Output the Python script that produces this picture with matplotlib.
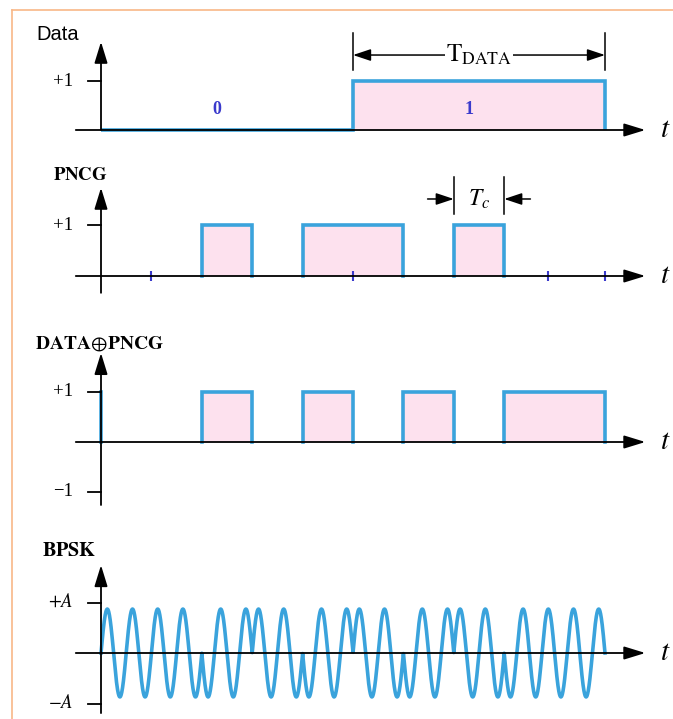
#!/usr/bin/env python
""" DSSS signals: data, PN chip sequence, their XOR and the BPSK waveform """

import numpy as np
import matplotlib
matplotlib.use('Agg')
import matplotlib.pyplot as plt
from matplotlib.lines import Line2D

plt.rcParams.update({'font.family': ['Liberation Serif', 'DejaVu Serif'],
                     'mathtext.fontset': 'stix'})

# data
data_bits = [0, 1]
chips_per_bit = 5
pn_chips = [0, 0, 1, 0, 1, 1, 0, 1, 0, 0]
stray_marks = [1, 5, 8.87, 10]      # small blue marks on the PNCG axis
xor_start_level = 1                  # trace begins at +1 before dropping
carrier_cycles_per_chip = 2
carrier_amp = 0.87

data_chips = np.repeat(data_bits, chips_per_bit)
xor_chips = np.bitwise_xor(data_chips, pn_chips)
edges = np.arange(len(pn_chips) + 1)

BLUE = '#3aa3dc'
PINK = '#fde1ee'
DARK_BLUE = '#3a3acc'

W, H = 673, 719
X0, CHIP = 101, 50.4     # pixel of t=0, pixels per chip

fig = plt.figure(figsize=(W / 100, H / 100), dpi=100)


def panel(top, bottom, base, unit=50):
    ax = fig.add_axes([0, 1 - bottom / H, 1, (bottom - top) / H])
    ax.set_xlim(-X0 / CHIP, (W - X0) / CHIP)
    ax.set_ylim(-(bottom - base) / unit, (base - top) / unit)
    ax.axis('off')
    return ax


def draw_axes(ax, ytop, ybot, ticks):
    arrow = dict(arrowstyle='-|>,head_length=0.65,head_width=0.2',
                 color='black', lw=1.3, shrinkA=0, shrinkB=0, mutation_scale=20)
    ax.annotate('', xy=(10.8, 0), xytext=(-0.5, 0), arrowprops=arrow)
    ax.annotate('', xy=(0, ytop), xytext=(0, ybot), arrowprops=arrow)
    ax.text(11.2, 0, r'$t$', fontsize=21, va='center', ha='center')
    for y, lab in ticks:
        ax.plot([-0.26, 0], [y, y], color='black', lw=1.3)
        ax.text(-0.55, y, lab, fontsize=13.5, va='center', ha='right')


def pulses(ax, chips, outline_low=False):
    ax.fill_between(edges, np.append(chips, chips[-1]), step='post',
                    color=PINK, lw=0)
    if outline_low:
        ax.stairs(chips, edges, color=BLUE, lw=2.6, baseline=0)
        return
    c = list(chips) + [0]
    start = None
    for i, b in enumerate(c):
        if b and start is None:
            start = i
        elif not b and start is not None:
            ax.plot([start, start, i, i], [0, 1, 1, 0], color=BLUE, lw=2.6,
                    solid_joinstyle='miter')
            start = None


def dimension(ax, x1, x2, ybot, ytop, yarr, label, outward):
    ax.plot([x1, x1], [ybot, ytop], color='black', lw=1.1)
    ax.plot([x2, x2], [ybot, ytop], color='black', lw=1.1)
    arrow = dict(arrowstyle='-|>,head_length=0.6,head_width=0.2',
                 color='black', lw=1.1, shrinkA=0, shrinkB=0, mutation_scale=18)
    mid = (x1 + x2) / 2
    if outward:
        ax.annotate('', xy=(x1, yarr), xytext=(mid, yarr), arrowprops=arrow)
        ax.annotate('', xy=(x2, yarr), xytext=(mid, yarr), arrowprops=arrow)
        ax.text(mid, yarr, label, fontsize=18, ha='center', va='center',
                bbox=dict(fc='white', ec='none', pad=1))
    else:
        ax.annotate('', xy=(x1, yarr), xytext=(x1 - 0.52, yarr), arrowprops=arrow)
        ax.annotate('', xy=(x2, yarr), xytext=(x2 + 0.52, yarr), arrowprops=arrow)
        ax.text(mid, yarr, label, fontsize=17, ha='center', va='center')


# Data
ax1 = panel(0, 160, 130, 49)
pulses(ax1, data_chips, outline_low=True)
draw_axes(ax1, 1.8, 0, [(1, '+1')])
for k, b in enumerate(data_bits):
    ax1.text(chips_per_bit * k + 2.3, 0.42, str(b), color=DARK_BLUE,
             fontsize=13, fontweight='bold', ha='center', va='center')
dimension(ax1, 5, 10, 1.22, 1.98, 1.53, r'$\mathrm{T}_{\mathrm{DATA}}$', True)
fig.text(36 / W, 1 - 35 / H, 'Data', family='Liberation Sans', fontsize=14.5,
         va='center', ha='left')

# PNCG
ax2 = panel(160, 320, 276, 51)
pulses(ax2, np.array(pn_chips))
draw_axes(ax2, 1.73, -0.33, [(1, '+1')])
ax2.vlines(stray_marks, -0.1, 0.1, color=DARK_BLUE, lw=1.5)
dimension(ax2, 7, 8, 1.22, 1.94, 1.51, r'$T_c$', False)
fig.text(53 / W, 1 - 175 / H, r'$\mathbf{PNCG}$', fontsize=13.5,
         va='center', ha='left')

# DATA xor PNCG
ax3 = panel(320, 525, 442, 50)
pulses(ax3, xor_chips)
ax3.plot([0, 0], [xor_start_level, 0], color=BLUE, lw=2.6)
draw_axes(ax3, 1.78, -1.26, [(1, '+1'), (-1, '\u22121')])
fig.text(35 / W, 1 - 344 / H, r'$\mathbf{DATA}\!\oplus\!\mathbf{PNCG}$',
         fontsize=14, va='center', ha='left')

# BPSK
ax4 = panel(525, 719, 653, 50.5)
t = np.linspace(0, len(pn_chips), 4000)
idx = np.minimum(t.astype(int), len(pn_chips) - 1)
bpsk = carrier_amp * (1 - 2 * xor_chips[idx]) * np.sin(2 * np.pi * carrier_cycles_per_chip * t)
ax4.plot(t, bpsk, color=BLUE, lw=2.6)
draw_axes(ax4, 1.74, -1.19, [(1, r'$+A$'), (-1, r'$-A$')])
fig.text(42 / W, 1 - 551 / H, r'$\mathbf{BPSK}$', fontsize=14.5,
         va='center', ha='left')

# slide frame
frame = dict(color='#f8b888', lw=1.2, transform=fig.transFigure)
fig.add_artist(Line2D([12 / W, 1], [1 - 10 / H, 1 - 10 / H], **frame))
fig.add_artist(Line2D([12 / W, 12 / W], [0, 1 - 10 / H], **frame))

plt.savefig('out.png', dpi=100)
